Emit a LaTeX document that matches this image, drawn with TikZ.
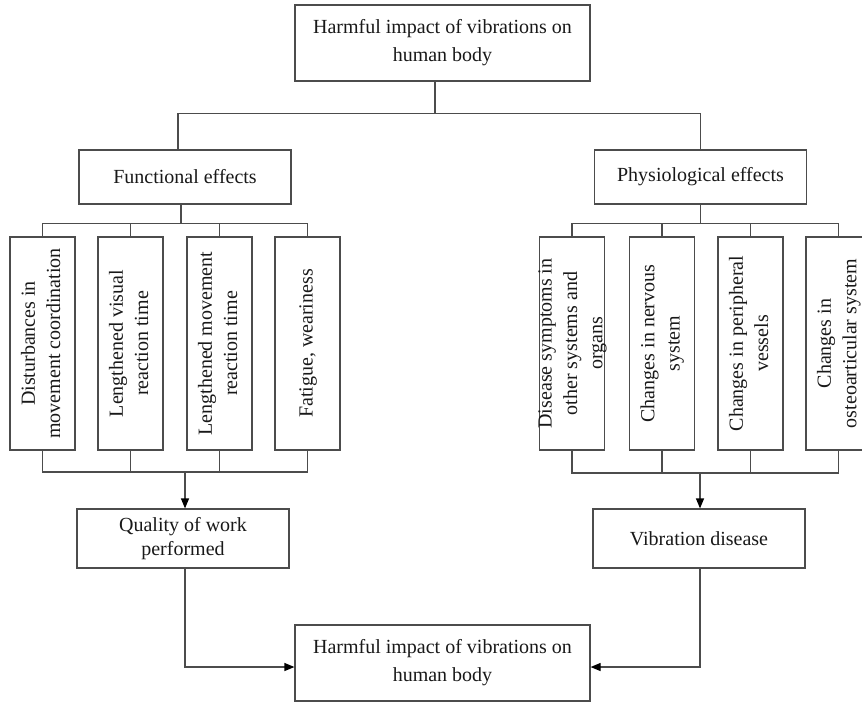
\documentclass[tikz,border=0pt]{standalone}
\usepackage{fontspec}
\setmainfont{Liberation Serif}
\usepackage{graphicx}
\usetikzlibrary{arrows.meta}

\newcommand{\vlabel}[1]{\makebox[0pt]{\rotatebox{90}{\begin{tabular}{@{}c@{}}#1\end{tabular}}}}

\tikzset{
	box/.style={draw=black!70, line width=0.9pt, inner sep=0pt, align=center, text=black!90, font=\fontsize{15}{19}\selectfont},
	mainbox/.style={box, minimum width=221.25pt, minimum height=57pt, font=\fontsize{15}{21}\selectfont},
	effectbox/.style={box, minimum width=159pt, minimum height=40.5pt},
	resultbox/.style={box, minimum width=159pt, minimum height=44.25pt, font=\fontsize{15}{17.5}\selectfont},
	symptombox/.style={box, minimum width=48.75pt, minimum height=159.75pt},
	link/.style={draw=black!70, line width=0.9pt},
	>={Triangle[length=7.5pt,width=6pt,color=black]}
}

\begin{document}
\begin{tikzpicture}[x=0.75pt, y=-0.75pt]
	\path[use as bounding box, fill=white] (0,0) rectangle (862,704);
	% top level
	\node[mainbox] (harm) at (442.5,43) {Harmful impact of vibrations on\\human body};
	\node[effectbox] (func) at (185,177) {Functional effects};
	\node[effectbox] (phys) at (700.5,177) {Physiological effects};
	% functional symptoms
	\node[symptombox] (f1) at (42.5,343.5) {\vlabel{Disturbances in\\movement coordination}};
	\node[symptombox] (f2) at (130.5,343.5) {\vlabel{Lengthened visual\\reaction time}};
	\node[symptombox] (f3) at (219.5,343.5) {\vlabel{Lengthened movement\\reaction time}};
	\node[symptombox] (f4) at (307.5,343.5) {\vlabel{Fatigue, weariness}};
	% physiological symptoms
	\node[symptombox] (p1) at (572,343.5) {\vlabel{Disease symptoms in\\other systems and\\organs}};
	\node[symptombox] (p2) at (662,343.5) {\vlabel{Changes in nervous\\system}};
	\node[symptombox] (p3) at (750.5,343.5) {\vlabel{Changes in peripheral\\vessels}};
	\node[symptombox] (p4) at (838.5,343.5) {\vlabel{Changes in\\osteoarticular system}};
	% results
	\node[resultbox] (qual) at (183,538.5) {Quality of work\\performed};
	\node[resultbox] (vib) at (699,538.5) {Vibration disease};
	\node[mainbox] (total) at (442.5,663) {Harmful impact of vibrations on\\human body};
	\coordinate (fjoin) at (185,472);
	\coordinate (pjoin) at (700,473);

	\path[link]
		([xshift=-5.6pt]harm.south) -- ++(0,32) -| ([xshift=-5.2pt]func.north)
		([xshift=-5.6pt]harm.south) -- ++(0,32) -| (phys.north);
	\foreach \n in {f1,f2,f3,f4}
		\path[link] ([xshift=-3pt]func.south) -- ++(0,19) -| (\n.north) (\n.south) |- (fjoin);
	\foreach \n in {p1,p2,p3,p4}
		\path[link] (phys.south) -- ++(0,19) -| (\n.north) (\n.south) |- (pjoin);
	\draw[link, ->] (fjoin) -- (fjoin |- qual.north);
	\draw[link, ->] (pjoin) -- (pjoin |- vib.north);
	\draw[link, ->] (fjoin |- qual.south) |- ([yshift=-3pt]total.west);
	\draw[link, ->] (pjoin |- vib.south) |- ([yshift=-3pt]total.east);
\end{tikzpicture}
\end{document}
